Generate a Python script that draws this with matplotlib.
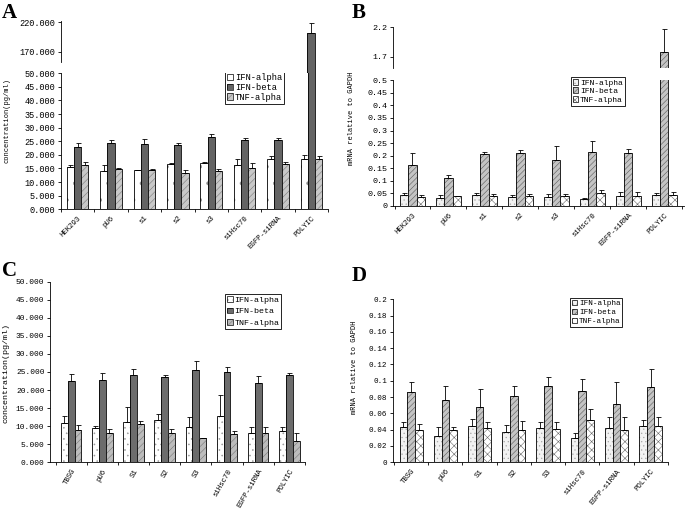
import numpy as np
import matplotlib
matplotlib.use('Agg')
import matplotlib.pyplot as plt
from matplotlib.patches import Patch
from matplotlib.ticker import FormatStrFormatter, FuncFormatter

plt.rcParams['font.family'] = ['Liberation Mono', 'DejaVu Sans Mono']
plt.rcParams['hatch.linewidth'] = 0.4

# dados
cats_ab = ['HEK293', 'pU6', 's1', 's2', 's3', 'siHsc70', 'EGFP-siRNA', 'POLYIC']
cats_cd = ['TBSG', 'pU6', 'S1', 'S2', 'S3', 'siHsc70', 'EGFP-siRNA', 'POLYIC']
series = ['IFN-alpha', 'IFN-beta', 'TNF-alpha']

# A - proteina (pg/ml)
a_alpha = [15.6, 14.1, 14.3, 16.5, 17.0, 16.2, 18.4, 18.6]
a_alpha_sd = [0.5, 2.0, 0.3, 0.6, 0.3, 2.1, 1.1, 1.3]
a_beta = [22.8, 24.3, 24.1, 23.7, 26.6, 25.4, 25.5, 202.0]
a_beta_sd = [1.5, 1.2, 1.8, 0.6, 1.0, 0.8, 0.7, 17.0]
a_tnf = [16.3, 14.9, 14.6, 13.5, 14.0, 15.3, 16.5, 18.4]
a_tnf_sd = [0.9, 0.2, 0.2, 1.0, 0.7, 1.7, 0.8, 1.1]

# B - mRNA / GAPDH
b_alpha = [0.044, 0.031, 0.045, 0.036, 0.037, 0.028, 0.040, 0.042]
b_alpha_sd = [0.008, 0.013, 0.005, 0.008, 0.012, 0.005, 0.014, 0.010]
b_beta = [0.163, 0.110, 0.208, 0.210, 0.184, 0.213, 0.210, 1.79]
b_beta_sd = [0.047, 0.015, 0.008, 0.011, 0.055, 0.047, 0.018, 0.38]
b_tnf = [0.037, 0.038, 0.038, 0.038, 0.040, 0.052, 0.040, 0.042]
b_tnf_sd = [0.008, 0.003, 0.008, 0.011, 0.008, 0.012, 0.016, 0.012]

# C - proteina (pg/ml)
c_alpha = [10.8, 9.4, 11.1, 11.6, 9.9, 12.9, 8.0, 8.6]
c_alpha_sd = [1.9, 0.6, 4.3, 1.9, 2.7, 5.6, 1.9, 1.1]
c_beta = [22.6, 22.8, 24.2, 23.5, 25.5, 25.1, 22.0, 24.1]
c_beta_sd = [1.8, 2.0, 1.6, 0.7, 2.5, 1.2, 2.0, 0.6]
c_tnf = [8.8, 8.2, 10.6, 8.1, 6.6, 7.7, 8.0, 5.9]
c_tnf_sd = [1.4, 0.9, 0.7, 1.2, 0.2, 0.9, 1.9, 2.3]

# D - mRNA / GAPDH
d_alpha = [0.043, 0.032, 0.044, 0.037, 0.042, 0.030, 0.042, 0.044]
d_alpha_sd = [0.007, 0.011, 0.009, 0.009, 0.008, 0.006, 0.013, 0.008]
d_beta = [0.086, 0.076, 0.068, 0.081, 0.093, 0.088, 0.072, 0.092]
d_beta_sd = [0.012, 0.018, 0.022, 0.013, 0.012, 0.014, 0.026, 0.022]
d_tnf = [0.040, 0.040, 0.042, 0.040, 0.041, 0.052, 0.040, 0.044]
d_tnf_sd = [0.007, 0.003, 0.007, 0.011, 0.008, 0.013, 0.015, 0.011]

# estilos (cor de fundo, cor da hachura, hachura)
sty_a = [('white', '#8a8a8a', '.'), ('#646464', '#646464', ''), ('#c8c8c8', '#7a7a7a', '/////')]
sty_b = [('#f2f2f2', '#a8a8a8', '....'), ('#c4c4c4', '#5a5a5a', '//////'), ('white', '#6a6a6a', 'xxxx')]
sty_c = [('white', '#9a9a9a', '...'), ('#6c6c6c', '#6c6c6c', ''), ('#bcbcbc', '#787878', '/////')]
sty_d = sty_b


def barras(ax, vals, sds, sty, w):
    x = np.arange(len(vals[0]))
    for k in range(3):
        pos = x + (k - 1) * w
        fc, hc, h = sty[k]
        ax.bar(pos, vals[k], w, color=fc, edgecolor=hc, hatch=h, linewidth=0)
        ax.bar(pos, vals[k], w, fill=False, edgecolor='black', linewidth=0.6)
        ax.errorbar(pos, vals[k], yerr=[np.zeros(len(x)), sds[k]], fmt='none', ecolor='black',
                    elinewidth=0.6, capsize=1.8, capthick=0.6)


def eixo_base(ax, cats, xlim, rot, fs_x, fs_y):
    ax.set_xlim(*xlim)
    ax.spines['top'].set_visible(False)
    ax.spines['right'].set_visible(False)
    for s in ['left', 'bottom']:
        ax.spines[s].set_linewidth(0.6)
    ax.set_xticks(np.arange(len(cats)))
    ax.set_xticklabels(cats, rotation=rot, ha='right', rotation_mode='anchor', fontsize=fs_x)
    ax.set_xticks(np.arange(-0.5, len(cats), 1), minor=True)
    ax.tick_params(axis='x', which='major', length=0, pad=4)
    ax.tick_params(axis='x', which='minor', length=2, width=0.6)
    ax.tick_params(axis='y', length=2, width=0.6, labelsize=fs_y, pad=2)


def eixo_topo(ax, xlim, fs_y):
    ax.set_xlim(*xlim)
    for s in ['top', 'right', 'bottom']:
        ax.spines[s].set_visible(False)
    ax.spines['left'].set_linewidth(0.6)
    ax.tick_params(axis='x', bottom=False, labelbottom=False)
    ax.tick_params(axis='y', length=2, width=0.6, labelsize=fs_y, pad=2)


def legenda(ax, sty, anchor, fs, sp):
    hs = [(Patch(facecolor=fc, edgecolor=hc, hatch=h, linewidth=0),
           Patch(fill=False, edgecolor='black', linewidth=0.5)) for fc, hc, h in sty]
    leg = ax.legend(hs, series, loc='upper left', bbox_to_anchor=anchor, fontsize=fs,
                    handlelength=0.7, handleheight=0.7, handletextpad=0.2, labelspacing=sp,
                    borderpad=0.25, borderaxespad=0, fancybox=False, framealpha=1)
    leg.get_frame().set_edgecolor('black')
    leg.get_frame().set_linewidth(0.6)


g = lambda v, p: f'{round(v, 3):g}'

fig = plt.figure(figsize=(6.85, 5.09), dpi=100)

# ---- A ----
xa = (-0.33, 7.5)
axA = fig.add_axes([0.089, 0.589, 0.390, 0.267])
axA2 = fig.add_axes([0.089, 0.856, 0.390, 0.102])
for ax in (axA, axA2):
    barras(ax, [a_alpha, a_beta, a_tnf], [a_alpha_sd, a_beta_sd, a_tnf_sd], sty_a, 0.216)
eixo_base(axA, cats_ab, xa, 45, 5.3, 6.2)
axA.set_ylim(0, 50)
axA.set_yticks(np.arange(0, 51, 5))
axA.yaxis.set_major_formatter(FormatStrFormatter('%.3f'))
axA.set_ylabel('concentration(pg/ml)', fontsize=5)
axA.yaxis.set_label_coords(-0.19, 0.65)
eixo_topo(axA2, xa, 6.2)
axA2.set_ylim(134, 221.7)
axA2.spines['left'].set_bounds(152.8, 221.7)
axA2.set_yticks([170, 220])
axA2.yaxis.set_major_formatter(FormatStrFormatter('%.3f'))
legenda(axA, sty_a, (0.614, 1.02), 6.3, 0.1)

# ---- B ----
xb = (-0.55, 7.55)
axB = fig.add_axes([0.5733, 0.5953, 0.4253, 0.247])
axB2 = fig.add_axes([0.5733, 0.8658, 0.4253, 0.0817])
for ax in (axB, axB2):
    barras(ax, [b_alpha, b_beta, b_tnf], [b_alpha_sd, b_beta_sd, b_tnf_sd], sty_b, 0.23)
eixo_base(axB, cats_ab, xb, 45, 5.3, 6)
axB.set_ylim(0, 0.5)
axB.set_yticks(np.arange(0, 0.501, 0.05))
axB.yaxis.set_major_formatter(FuncFormatter(g))
axB.set_ylabel('mRNA relative to GAPDH', fontsize=5)
axB.yaxis.set_label_coords(-0.13, 0.70)
eixo_topo(axB2, xb, 6)
axB2.set_ylim(1.507, 2.21)
axB2.set_yticks([1.7, 2.2])
axB2.yaxis.set_major_formatter(FuncFormatter(g))
legenda(axB, sty_b, (0.611, 1.026), 5.8, 0.1)

# ---- C ----
axC = fig.add_axes([0.073, 0.0918, 0.372, 0.3548])
barras(axC, [c_alpha, c_beta, c_tnf], [c_alpha_sd, c_beta_sd, c_tnf_sd], sty_c, 0.22)
eixo_base(axC, cats_cd, (-0.68, 7.5), 60, 5.3, 5.7)
axC.set_ylim(0, 50)
axC.set_yticks(np.arange(0, 51, 5))
axC.yaxis.set_major_formatter(FormatStrFormatter('%.3f'))
axC.set_ylabel('concentration(pg/ml)', fontsize=6)
axC.yaxis.set_label_coords(-0.157, 0.494)
legenda(axC, sty_c, (0.686, 0.932), 6, 0.45)

# ---- D ----
axD = fig.add_axes([0.5733, 0.0918, 0.4015, 0.3202])
barras(axD, [d_alpha, d_beta, d_tnf], [d_alpha_sd, d_beta_sd, d_tnf_sd], sty_d, 0.225)
eixo_base(axD, cats_cd, (-0.54, 7.5), 50, 5.3, 5.5)
axD.set_ylim(0, 0.2)
axD.set_yticks(np.arange(0, 0.201, 0.02))
axD.yaxis.set_major_formatter(FuncFormatter(g))
axD.set_ylabel('mRNA relative to GAPDH', fontsize=5)
axD.yaxis.set_label_coords(-0.126, 0.585)
legenda(axD, sty_d, (0.645, 1.01), 5.5, 0.25)

# letras dos paineis
for x, y, t in [(0.003, 0.995, 'A'), (0.514, 0.995, 'B'), (0.003, 0.487, 'C'), (0.514, 0.477, 'D')]:
    fig.text(x, y, t, fontsize=15, fontweight='bold', family='Liberation Serif', va='top', ha='left')

fig.savefig('out.png', dpi=100)
